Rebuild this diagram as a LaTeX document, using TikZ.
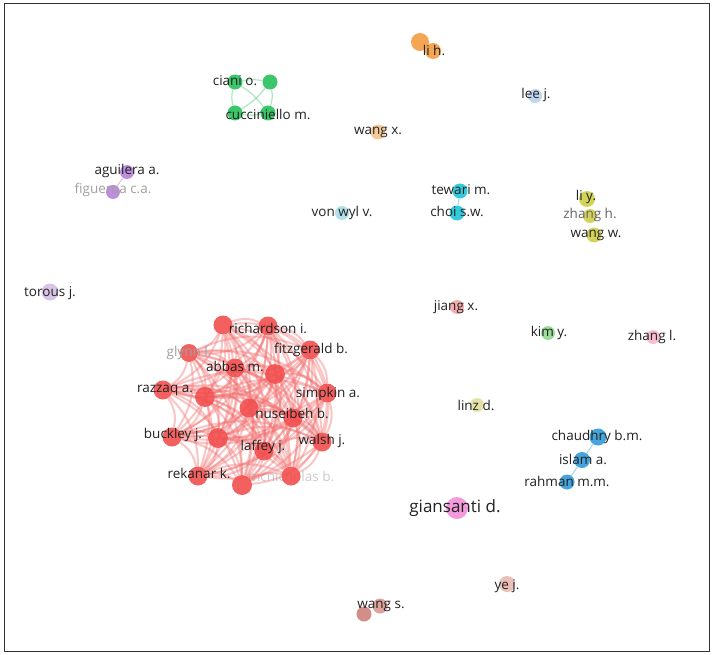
\documentclass[tikz,border=0pt]{standalone}
\usepackage{fontspec}
\setmainfont{Open Sans}
\usetikzlibrary{backgrounds}
\definecolor{cred}{HTML}{F24A4A}
\definecolor{credge}{HTML}{F47070}
\definecolor{cgreen}{HTML}{1FBF55}
\definecolor{corange}{HTML}{F49A3E}
\definecolor{corange2}{HTML}{F5C48E}
\definecolor{clee}{HTML}{B8D0EE}
\definecolor{cpurple}{HTML}{B57FD8}
\definecolor{ctorous}{HTML}{D3BCE4}
\definecolor{ccyan}{HTML}{17C4D8}
\definecolor{cvonwyl}{HTML}{A6DCE8}
\definecolor{colive}{HTML}{CDCD45}
\definecolor{cjiang}{HTML}{F3A3A3}
\definecolor{ckim}{HTML}{8ED88E}
\definecolor{czhangl}{HTML}{F7B6CC}
\definecolor{clinz}{HTML}{DEDE9C}
\definecolor{cblue}{HTML}{2D98D8}
\definecolor{cgian}{HTML}{F28BD8}
\definecolor{cye}{HTML}{E8B8B0}
\definecolor{cwangs}{HTML}{CC7F78}
\definecolor{cwangs2}{HTML}{D8968E}
\definecolor{ctext}{HTML}{222222}
\definecolor{cfade}{HTML}{A0A0A0}
\tikzset{
  dot/.style={circle, inner sep=0pt, minimum size=#1, draw=none, fill opacity=0.88},
  lbl/.style={text=ctext, font=\fontsize{13.5}{15}\selectfont, inner sep=0pt},
  flbl/.style={lbl, text=cfade},
  redge/.style={draw=credge, line width=2pt, opacity=0.4},
  gedge/.style={draw=cgreen!60, line width=1.2pt, opacity=0.6},
  bedge/.style={draw=cblue!50, line width=1.2pt, opacity=0.7},
  pedge/.style={draw=cpurple!60, line width=1.2pt, opacity=0.7},
  cedge/.style={draw=ccyan!60, line width=1.2pt, opacity=0.7},
}
\begin{document}
\begin{tikzpicture}[x=1pt,y=-1pt]
\useasboundingbox (0,0) rectangle (714,655);

% red cluster nodes
\foreach \n/\x/\y/\s in {1/223/325/19, 2/268/326/19, 3/189/353/18, 4/310/350/19,
  5/235/368/19, 6/275/374/20, 7/163/390/19, 8/205/397/20, 9/327/393/19,
  10/249/408/19, 11/293/418/19, 12/172/437/19, 13/218/438/20, 14/264/451/19,
  15/322/442/19, 16/198/476/19, 17/242/485/20, 18/291/476/19}{
  \node[dot=\s pt, fill=cred] (r\n) at (\x,\y) {};
}
\begin{scope}[on background layer]
\fill[white] (0,0) rectangle (714,655);
\node[flbl, text opacity=0.55] (lr18) at (291,476) {mcnicholas b.};
\foreach \i in {1,...,17}{
  \pgfmathtruncatemacro\k{\i+1}
  \foreach \j in {\k,...,18}{
    \draw[redge] (r\i) to[bend left=22] (r\j);
  }
}
\end{scope}
\draw[line width=1pt, black!80] (4,4) rectangle (709,651);

% green cluster
\node[dot=15pt, fill=cgreen] (g1) at (235,82) {};
\node[dot=15pt, fill=cgreen] (g2) at (270,82) {};
\node[dot=15pt, fill=cgreen] (g3) at (235,113) {};
\node[dot=15pt, fill=cgreen] (g4) at (268,113) {};
\begin{scope}[on background layer]
\draw[gedge] (g1) to[bend left=10] (g4);
\draw[gedge] (g2) to[bend left=10] (g3);
\draw[gedge] (g2) to[bend left=15] (g4);
\draw[gedge] (g1) to[bend right=15] (g3);
\draw[gedge] (g1) to[bend left=10] (g2);
\draw[gedge] (g3) to[bend right=10] (g4);
\end{scope}

% other nodes
\node[dot=18pt, fill=corange] (lih1) at (420,42) {};
\node[dot=16pt, fill=corange] (lih2) at (433,51) {};
\node[dot=14pt, fill=clee] (lee) at (535,96) {};
\node[dot=15pt, fill=corange2] (wangx) at (378,132) {};
\node[dot=14pt, fill=cpurple] (agu) at (127,172) {};
\node[dot=14pt, fill=cpurple] (fig) at (113,192) {};
\node[dot=17pt, fill=ctorous] (tor) at (50,292) {};
\node[dot=15pt, fill=ccyan] (tew) at (460,191) {};
\node[dot=15pt, fill=ccyan] (choi) at (457,213) {};
\node[dot=14pt, fill=cvonwyl] (vw) at (342,213) {};
\node[dot=16pt, fill=colive] (liy) at (587,199) {};
\node[dot=14pt, fill=colive] (zhh) at (590,216) {};
\node[dot=15pt, fill=colive] (wangw) at (594,235) {};
\node[dot=14pt, fill=cjiang] (jiang) at (457,307) {};
\node[dot=14pt, fill=ckim] (kim) at (548,333) {};
\node[dot=14pt, fill=czhangl] (zhl) at (653,337) {};
\node[dot=14pt, fill=clinz] (linz) at (477,405) {};
\node[dot=17pt, fill=cblue] (chau) at (598,437) {};
\node[dot=16pt, fill=cblue] (isl) at (582,460) {};
\node[dot=15pt, fill=cblue] (rah) at (567,482) {};
\node[dot=22pt, fill=cgian] (gian) at (457,508) {};
\node[dot=16pt, fill=cye] (ye) at (507,584) {};
\node[dot=15pt, fill=cwangs2] (ws1) at (380,606) {};
\node[dot=15pt, fill=cwangs] (ws2) at (364,614) {};

\begin{scope}[on background layer]
\draw[pedge] (agu) -- (fig);
\draw[cedge] (tew) -- (choi);
\draw[bedge] (chau) -- (isl);
\draw[bedge] (isl) -- (rah);
\end{scope}

% labels
\node[lbl] (lr2) at (268,328) {richardson i.};
\node[flbl] (lr3) at (189,353) {glynn l.};
\node[lbl] (lr4) at (311,350) {fitzgerald b.};
\node[lbl] (lr5) at (235,366) {abbas m.};
\node[lbl] (lr7) at (165,390) {razzaq a.};
\node[lbl] (lr9) at (328,394) {simpkin a.};
\node[lbl] (lr11) at (292,413) {nuseibeh b.};
\node[lbl] (lr12) at (173,435) {buckley j.};
\node[lbl] (lr14) at (263,447) {laffey j.};
\node[lbl] (lr15) at (322,441) {walsh j.};
\node[lbl] (lr16) at (199,473) {rekanar k.};
\node[lbl] (lg1) at (235,81) {ciani o.};
\node[lbl] (lg4) at (268,114) {cucciniello m.};
\node[lbl] (llih) at (434,50) {li h.};
\node[lbl] (llee) at (536,95) {lee j.};
\node[lbl] (lwangx) at (378,132) {wang x.};
\node[lbl] (lagu) at (127,171) {aguilera a.};
\node[flbl] (lfig) at (113,190) {figueroa c.a.};
\node[lbl] (ltor) at (50,293) {torous j.};
\node[lbl] (ltew) at (461,190) {tewari m.};
\node[lbl] (lchoi) at (457,211) {choi s.w.};
\node[lbl] (lvw) at (342,213) {von wyl v.};
\node[lbl] (lliy) at (586,197) {li y.};
\node[lbl, text=black!60] (lzhh) at (590,215) {zhang h.};
\node[lbl] (lwangw) at (596,235) {wang w.};
\node[lbl] (ljiang) at (456,307) {jiang x.};
\node[lbl] (lkim) at (549,333) {kim y.};
\node[lbl] (lzhl) at (652,337) {zhang l.};
\node[lbl] (llinz) at (476,405) {linz d.};
\node[lbl] (lchau) at (597,437) {chaudhry b.m.};
\node[lbl] (lisl) at (583,459) {islam a.};
\node[lbl] (lrah) at (567,481) {rahman m.m.};
\node[lbl, font=\fontsize{17}{19}\selectfont] (lgian) at (455,508) {giansanti d.};
\node[lbl] (lye) at (507,586) {ye j.};
\node[lbl] (lws) at (381,606) {wang s.};
\end{tikzpicture}
\end{document}
